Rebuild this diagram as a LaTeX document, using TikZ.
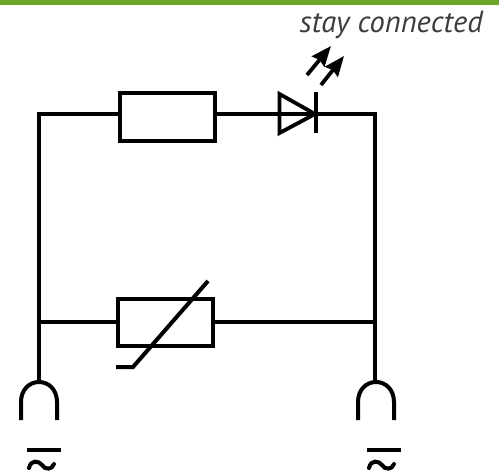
\documentclass[tikz,border=0pt]{standalone}
\usepackage{fontspec}
\setmainfont{PT Sans}
\usetikzlibrary{arrows.meta}
\definecolor{bandgreen}{HTML}{6BA82A}
\definecolor{labelgrey}{HTML}{3C3C3C}
\tikzset{
  wire/.style={line width=3.4pt,black,line cap=butt,line join=miter},
  partbox/.style={draw=black,line width=4pt,fill=white,inner sep=0pt,outer sep=0pt},
  plug/.style={line width=4pt,black},
  ledray/.style={line width=3.8pt,black,-{Stealth[length=20pt,width=16pt,inset=2pt]}},
  bar/.style={line width=3.6pt,black},
  tildemark/.style={line width=4pt,black,line cap=round},
  diodeline/.style={line width=3.8pt,black,line join=miter},
}
\begin{document}
\begin{tikzpicture}[x=1pt,y=-1pt]
\useasboundingbox (0,0) rectangle (499,474);
\fill[bandgreen] (0,0) rectangle (499,4.5);
\node[anchor=base east,text=labelgrey,inner sep=0pt,font=\itshape\fontsize{30.5}{30.5}\selectfont] (brand) at (483,32) {stay connected};
% corners and junctions
\coordinate (tl) at (39,114);
\coordinate (tr) at (375,114);
\coordinate (jl) at (39,322);
\coordinate (jr) at (375,322);
\coordinate (pl) at (39,383);
\coordinate (pr) at (375,383);
% upper branch
\node[partbox,minimum width=95pt,minimum height=48pt] (res) at (167,116.5) {};
\coordinate (da) at (279,114);
\coordinate (dk) at (316,114);
\draw[wire] (jl) -- (tl) -- (res.west |- tl);
\draw[wire] (res.east |- tl) -- (da);
\draw[wire] (da) -- (tr) -- (jr);
\draw[diodeline] (279.5,94) -- (315,114) -- (279.5,133) -- cycle;
\draw[diodeline] (316,92) -- (316,133);
% LED rays
\coordinate (r1a) at (307,75);
\coordinate (r1b) at (331,46);
\coordinate (r2a) at (321,85);
\coordinate (r2b) at (344,56);
\draw[ledray] (r1a) -- (r1b);
\draw[ledray] (r2a) -- (r2b);
% lower branch
\node[partbox,minimum width=95pt,minimum height=47pt] (var) at (165,322) {};
\draw[wire] (jl) -- (var.west);
\draw[wire] (var.east) -- (jr);
\coordinate (va) at (208,281);
\coordinate (vb) at (133,367);
\coordinate (vc) at (116,367);
\draw[line width=4pt,line join=miter] (va) -- (vb) -- (vc);
% supply legs and plugs
\draw[wire] (jl) -- (pl);
\draw[wire] (jr) -- (pr);
\draw[plug] (21,420) -- (21,402) .. controls (21,390) and (29,382) .. (39,382) .. controls (49,382) and (57,390) .. (57,402) -- (57,420);
\draw[plug] (358,420) -- (358,402) .. controls (358,390) and (366,382) .. (376,382) .. controls (386,382) and (394,390) .. (394,402) -- (394,420);
% symbols
\coordinate (bl1) at (27,450);
\coordinate (bl2) at (61,450);
\coordinate (br1) at (367,450);
\coordinate (br2) at (401,450);
\draw[bar] (bl1) -- (bl2);
\draw[bar] (br1) -- (br2);
\draw[tildemark] (29,468) .. controls (31,459) and (39,461) .. (42,465) .. controls (45,470) and (52,470) .. (54,464);
\draw[tildemark] (369,468) .. controls (371,459) and (379,461) .. (382,465) .. controls (385,470) and (392,470) .. (394,464);
\end{tikzpicture}
\end{document}
